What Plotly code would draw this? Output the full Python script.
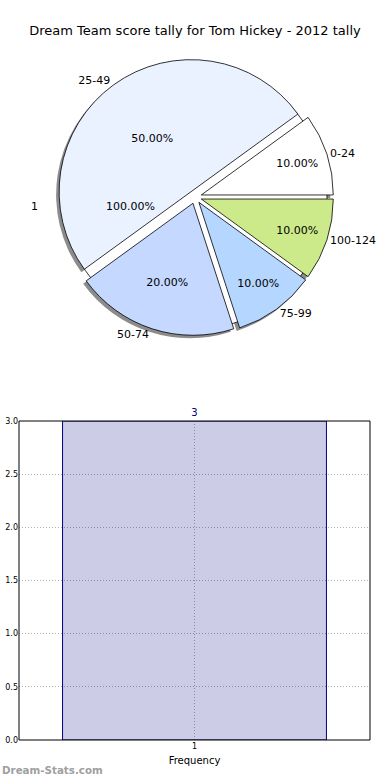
import plotly.graph_objects as go

W, H = 390, 780

title = "Dream Team score tally for Tom Hickey - 2012 tally"
ranges = ["0-24", "25-49", "50-74", "75-99", "100-124"]
range_counts = [1, 5, 2, 1, 1]
range_colors = ["#FFFFFF", "#EAF1FF", "#C5D8FF", "#B4D6FF", "#CDEA8A"]
explode = [0.05, 0.05, 0.05, 0.05, 0.05]

freq_labels = ["1"]
freq_counts = [3]

FONT = "DejaVu Sans"


def py(p):
    return 1 - p / H


def px(p):
    return p / W


# start first slice at 3 o'clock, going counterclockwise (plotly places the
# clockwise edge of the first slice at `rotation`)
rot = 90 - 360 * range_counts[0] / sum(range_counts)

cy, r = 197, 132
hmain = r * (1 + max(explode))
main_dom = dict(x=[0, 1], y=[py(cy + hmain), py(cy - hmain)])
shadow_dom = dict(x=[0, 1 - 6 / W], y=[py(cy + hmain + 3), py(cy - hmain + 3)])
one_dom = dict(x=[0, 1], y=[py(cy + r), py(cy - r)])

fig = go.Figure()

# shadow
fig.add_trace(go.Pie(
    labels=ranges, values=range_counts, sort=False, direction="counterclockwise",
    rotation=rot, pull=explode, domain=shadow_dom, textinfo="none",
    marker=dict(colors=["rgba(0,0,0,0.45)"] * len(ranges), line=dict(width=0)),
    hoverinfo="skip", showlegend=False))

# single-slice frequency pie
fig.add_trace(go.Pie(
    labels=freq_labels, values=freq_counts, sort=False, direction="counterclockwise",
    rotation=90, domain=one_dom, textinfo="none",
    marker=dict(colors=["#FFFFFF"], line=dict(color="black", width=0.8)),
    hoverinfo="skip", showlegend=False))

# main pie with percentages
fig.add_trace(go.Pie(
    labels=ranges, values=range_counts, sort=False, direction="counterclockwise",
    rotation=rot, pull=explode, domain=main_dom,
    texttemplate="%{percent:.2%}", textposition="inside",
    insidetextorientation="horizontal",
    insidetextfont=dict(family=FONT, size=11, color="black"),
    marker=dict(colors=range_colors, line=dict(color="black", width=0.8)),
    showlegend=False))

# outside labels
fig.add_trace(go.Pie(
    labels=ranges, values=range_counts, sort=False, direction="counterclockwise",
    rotation=rot, pull=explode, domain=main_dom,
    texttemplate="%{label}", textposition="outside",
    outsidetextfont=dict(family=FONT, size=11, color="black"),
    marker=dict(colors=["rgba(0,0,0,0)"] * len(ranges), line=dict(width=0)),
    hoverinfo="skip", showlegend=False))

# bar chart
fig.add_trace(go.Bar(
    x=freq_labels, y=freq_counts, width=0.8,
    marker=dict(color="rgba(0,0,128,0.2)", line=dict(color="#000080", width=1)),
    text=[str(v) for v in freq_counts], textposition="outside", cliponaxis=False,
    textfont=dict(family=FONT, size=10, color="#000080"),
    xaxis="x", yaxis="y", showlegend=False))

total = sum(freq_counts)
annotations = [
    dict(text=freq_labels[0], x=px(29), y=py(198), xref="paper", yref="paper",
         showarrow=False, font=dict(family=FONT, size=11, color="black")),
    dict(text=f"{100 * freq_counts[0] / total:.2f}%", x=px(104), y=py(198),
         xref="paper", yref="paper", showarrow=False,
         font=dict(family=FONT, size=11, color="black")),
    dict(text="<b>Dream-Stats.com</b>", x=0, y=py(770), xref="paper", yref="paper",
         xanchor="left", yanchor="middle", showarrow=False,
         font=dict(family=FONT, size=10.3, color="#a0a0a0")),
]

# frame around the bar axes
shapes = [dict(type="rect", xref="x domain", yref="y domain", x0=0, x1=1, y0=0, y1=1,
               line=dict(color="black", width=1), fillcolor="rgba(0,0,0,0)",
               layer="above")]

fig.update_layout(
    width=W, height=H, margin=dict(l=0, r=0, t=0, b=0, autoexpand=False),
    paper_bgcolor="white", plot_bgcolor="white",
    title=dict(text=title, x=0.5, xanchor="center", y=py(30), yanchor="middle",
               xref="paper", yref="container", automargin=False,
               font=dict(family=FONT, size=13, color="black")),
    font=dict(family=FONT, color="black"),
    xaxis=dict(domain=[px(19), px(370)], type="category", range=[-0.532, 0.532],
               showline=False, mirror=False,
               showgrid=True, gridcolor="#b0b0b0", griddash="1px,2px", gridwidth=1,
               ticks="", tickfont=dict(size=8), automargin=False,
               title=dict(text="Frequency", font=dict(size=10), standoff=6),
               zeroline=False, fixedrange=True),
    yaxis=dict(domain=[py(740), py(421)], range=[0, 3], dtick=0.5, tickformat=".1f",
               showline=False, mirror=False,
               showgrid=True, gridcolor="#b0b0b0", griddash="1px,2px", gridwidth=1,
               ticks="", tickfont=dict(size=8), automargin=False,
               zeroline=False, fixedrange=True),
    annotations=annotations,
    shapes=shapes,
)

fig.write_html(
    "out.html",
    config={"displayModeBar": False},
    post_script="document.body.style.margin='0';document.body.style.padding='0';"
                "document.body.style.overflow='hidden';",
)
